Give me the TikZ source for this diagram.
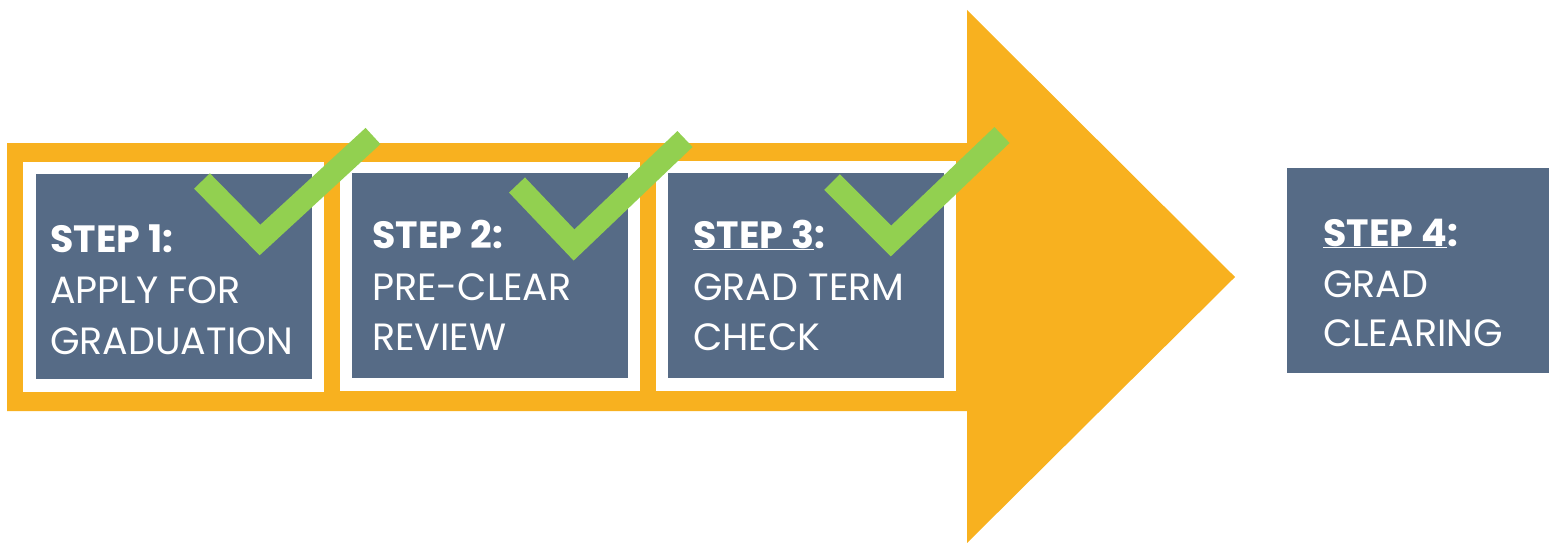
\documentclass[tikz,border=0pt]{standalone}
\usepackage{fontspec}
\setmainfont{Poppins}
\definecolor{arroworange}{HTML}{F8B11F}
\definecolor{boxblue}{HTML}{566B86}
\definecolor{checkgreen}{HTML}{92D050}
\tikzset{
  frame/.style={fill=white},
  stepbox/.style={fill=boxblue},
  check/.style={draw=checkgreen, line width=22pt, line join=miter, line cap=butt},
  head/.style={anchor=base west, inner sep=0pt, text=white, font=\fontsize{38}{46}\selectfont\bfseries},
  body/.style={anchor=base west, inner sep=0pt, text=white, font=\fontsize{38}{46}\selectfont},
}
\begin{document}
\begin{tikzpicture}[x=1pt,y=-1pt]
\useasboundingbox (0,0) rectangle (1549,543);
% big arrow
\fill[arroworange] (7,143) -- (967,143) -- (967,10) -- (1235,277) -- (967,543) -- (967,411) -- (7,411) -- cycle;
% frames and boxes
\fill[frame] (23,162) rectangle (324,392);
\fill[stepbox] (36,174) rectangle (312,379);
\fill[frame] (340,162) rectangle (640,391);
\fill[stepbox] (352,173) rectangle (628,378);
\fill[frame] (656,161) rectangle (956,391);
\fill[stepbox] (668,173) rectangle (944,378);
\fill[stepbox] (1287,168) rectangle (1549,373);
% texts
\node[head] (s1h) at (50,252) {STEP 1:};
\node[body] (s1a) at (50,303) {APPLY FOR};
\node[body] (s1b) at (50,354) {GRADUATION};
\node[head] (s2h) at (372,248) {STEP 2:};
\node[body] (s2a) at (372,300) {PRE-CLEAR};
\node[body] (s2b) at (372,350) {REVIEW};
\node[head] (s3h) at (693,248) {\underline{STEP 3}:};
\node[body] (s3a) at (693,300) {GRAD TERM};
\node[body] (s3b) at (693,350) {CHECK};
\node[head] (s4h) at (1323,246) {\underline{STEP 4}:};
\node[body] (s4a) at (1323,297) {GRAD};
\node[body] (s4b) at (1323,346) {CLEARING};
% checks
\draw[check] (202,181) -- (260,240) -- (373,136);
\draw[check] (517,185) -- (574,245) -- (685,139);
\draw[check] (832,182) -- (891,241) -- (1002,135);
\end{tikzpicture}
\end{document}
